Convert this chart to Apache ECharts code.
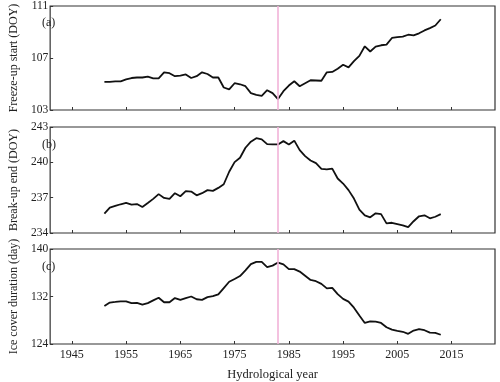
<!DOCTYPE html>
<html>
<head>
<meta charset="utf-8">
<script src="https://cdn.jsdelivr.net/npm/echarts@6/dist/echarts.min.js"></script>
<style>
  html, body { margin: 0; padding: 0; background: #fff; }
  #chart { width: 500px; height: 382px; }
</style>
</head>
<body>
<div id="chart"></div>
<script>
// hydrological years 1951-2013
var years = [];
for (var y = 1951; y <= 2013; y++) years.push(y);

var freezeStart = [
    105.16, 105.16, 105.2, 105.2, 105.36, 105.46, 105.5, 105.5, 105.57, 105.44,
    105.44, 105.9, 105.83, 105.6, 105.65, 105.74, 105.46, 105.6, 105.9, 105.77,
    105.5, 105.5, 104.73, 104.58, 105.06, 104.98, 104.83, 104.3, 104.17, 104.09,
    104.52, 104.3, 103.84, 104.45, 104.88, 105.21, 104.83, 105.06, 105.29, 105.27,
    105.25, 105.9, 105.93, 106.18, 106.48, 106.28, 106.76, 107.16, 107.9, 107.5,
    107.88, 107.98, 108.03, 108.54, 108.6, 108.64, 108.79, 108.74, 108.9, 109.12,
    109.3, 109.5, 109.98
];
var breakEnd = [
    235.65, 236.16, 236.3, 236.44, 236.55, 236.41, 236.46, 236.21, 236.55, 236.9,
    237.3, 236.98, 236.9, 237.38, 237.12, 237.55, 237.52, 237.2, 237.38, 237.64,
    237.58, 237.83, 238.14, 239.2, 240.02, 240.39, 241.24, 241.75, 242.05, 241.95,
    241.55, 241.52, 241.52, 241.8, 241.52, 241.84, 241.04, 240.53, 240.16, 239.93,
    239.45, 239.4, 239.47, 238.63, 238.2, 237.64, 236.92, 235.99, 235.5, 235.33,
    235.67, 235.6, 234.82, 234.87, 234.76, 234.65, 234.5, 235.0, 235.42, 235.5,
    235.25, 235.38, 235.6
];
var iceDuration = [
    130.38, 130.98, 131.08, 131.19, 131.19, 130.88, 130.93, 130.62, 130.88, 131.34,
    131.8, 131.03, 131.03, 131.74, 131.44, 131.74, 132.0, 131.54, 131.44, 131.9,
    132.05, 132.35, 133.42, 134.48, 134.94, 135.44, 136.4, 137.46, 137.82, 137.82,
    136.96, 137.2, 137.72, 137.42, 136.6, 136.6, 136.2, 135.49, 134.78, 134.58,
    134.12, 133.36, 133.46, 132.4, 131.6, 131.14, 130.12, 128.8, 127.54, 127.8,
    127.77, 127.54, 126.82, 126.42, 126.22, 126.06, 125.71, 126.27, 126.52, 126.32,
    125.91, 125.86, 125.56
];

var xTicks = [1945, 1955, 1965, 1975, 1985, 1995, 2005, 2015];
var shiftYear = 1983;

var panels = [
    {tag: '(a)', name: 'Freeze-up start (DOY)', data: freezeStart, min: 103, max: 111, step: 4, top: 5, height: 105},
    {tag: '(b)', name: 'Break-up end (DOY)', data: breakEnd, min: 234, max: 243, step: 3, top: 127, height: 106},
    {tag: '(c)', name: 'Ice cover duration (day)', data: iceDuration, min: 124, max: 140, step: 8, top: 249, height: 105}
];

var font = 'Liberation Serif';
var grids = [], xAxes = [], yAxes = [], series = [], graphics = [];

panels.forEach(function (p, i) {
    grids.push({
        left: 37, right: 5, top: p.top, height: p.height,
        show: true, borderColor: '#333', borderWidth: 1.2
    });
    xAxes.push({
        type: 'value', gridIndex: i, min: 1941, max: 2023,
        axisLine: {show: false},
        splitLine: {show: false},
        axisTick: {show: true, inside: true, length: 3, customValues: xTicks, lineStyle: {color: '#333'}},
        axisLabel: {
            show: i === 2, customValues: xTicks, fontFamily: font, fontSize: 12, color: '#222', margin: 5,
            formatter: function (v) { return String(v); }
        },
        name: i === 2 ? 'Hydrological year' : '',
        nameLocation: 'middle', nameGap: 24,
        nameTextStyle: {fontFamily: font, fontSize: 12.5, color: '#222'}
    });
    yAxes.push({
        type: 'value', gridIndex: i, min: p.min, max: p.max, interval: p.step,
        axisLine: {show: false},
        splitLine: {show: false},
        axisTick: {show: true, inside: true, length: 3, lineStyle: {color: '#333'}},
        axisLabel: {fontFamily: font, fontSize: 11.5, color: '#222', margin: 2},
        name: p.name, nameLocation: 'middle', nameGap: 21, nameRotate: 90,
        nameTextStyle: {fontFamily: font, fontSize: 12, color: '#222'}
    });
    series.push({
        type: 'line', xAxisIndex: i, yAxisIndex: i,
        data: years.map(function (yr, k) { return [yr, p.data[k]]; }),
        showSymbol: false, smooth: false,
        lineStyle: {color: '#111', width: 1.8},
        markLine: {
            silent: true, symbol: 'none', label: {show: false},
            lineStyle: {color: '#f2b3d9', width: 1.6, type: 'solid'},
            data: [{xAxis: shiftYear}]
        },
        z: 3
    });
    graphics.push({
        type: 'text', left: 42, top: p.top + 12,
        style: {text: p.tag, font: '12px "' + font + '"', fill: '#222'}
    });
});

var myChart = echarts.init(document.getElementById('chart'));
myChart.setOption({
    animation: false,
    backgroundColor: '#fff',
    grid: grids,
    xAxis: xAxes,
    yAxis: yAxes,
    series: series,
    graphic: graphics
});
</script>
</body>
</html>
